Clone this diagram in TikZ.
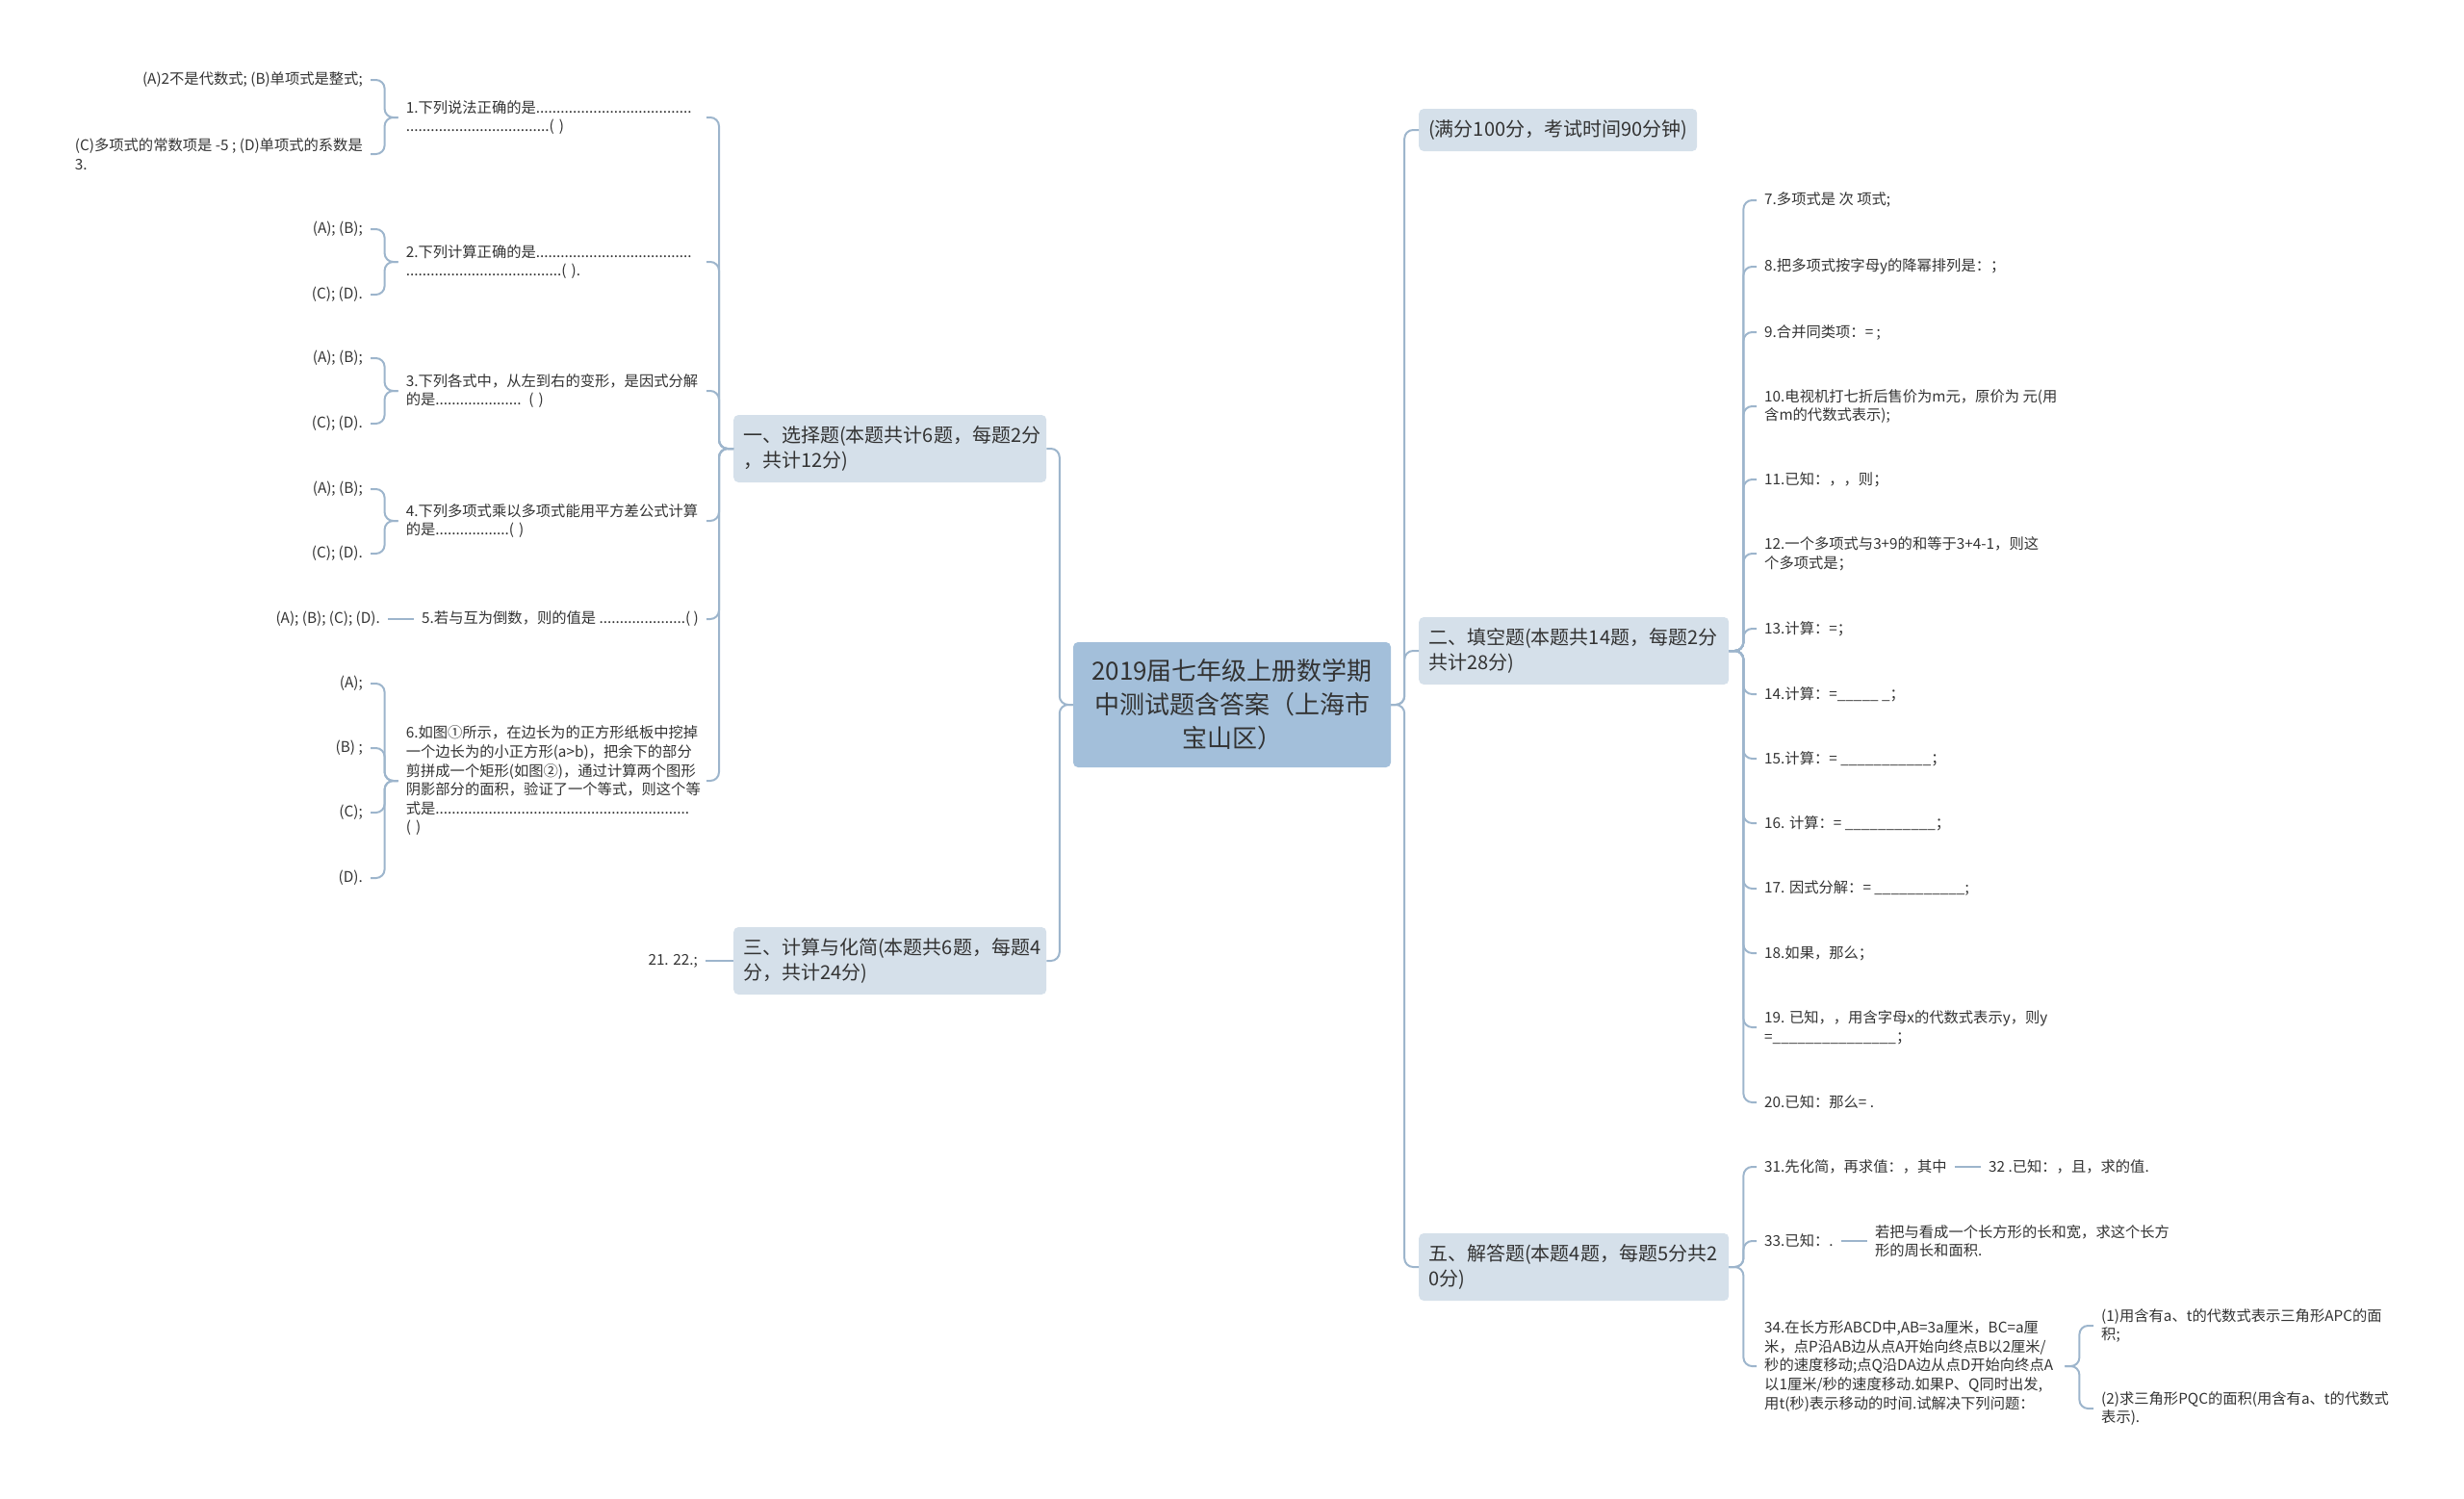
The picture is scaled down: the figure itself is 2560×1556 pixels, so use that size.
\documentclass[tikz,border=0pt]{standalone}
\usepackage{fontspec}
\setmainfont{Noto Sans CJK SC}
\usepackage{tikz}
\usetikzlibrary{positioning}
\definecolor{rootfill}{HTML}{A3BFDA}
\definecolor{topicfill}{HTML}{D5E0EA}
\definecolor{linkblue}{HTML}{9DB5CC}
\definecolor{inkgray}{HTML}{333333}
\newcommand{\leaffont}{\fontsize{15.3}{19.6}\selectfont}
\newcommand{\topicfont}{\fontsize{20}{26}\selectfont}
\newcommand{\rootfont}{\fontsize{26}{35}\selectfont}
\tikzset{%
  link/.style={draw=linkblue, line width=2pt, rounded corners=9pt},
  leaf/.style={align=left, inner xsep=8pt, inner ysep=2pt, text=inkgray, font=\leaffont},
  wide/.style={leaf, text width=304pt}%
}

\begin{document}
\begin{tikzpicture}[
    x=1pt, y=-1pt,
    rootbox/.style={
        fill=rootfill,
        rounded corners=5pt,
        align=center,
        text width=310pt,
        minimum width=330pt,
        minimum height=130pt,
        inner sep=0pt,
        text=inkgray,
        font=\rootfont
    },
    topic/.style={
        fill=topicfill,
        rounded corners=5pt,
        align=left,
        inner xsep=10pt,
        inner ysep=0pt,
        text=inkgray,
        font=\topicfont
    },
    ltopic/.style={topic, text width=305pt, minimum height=70pt},
    rtopic/.style={topic, text width=302pt, minimum height=70pt}
]
\useasboundingbox (0,0) rectangle (2560,1556);

% Centre and first level
\node[rootbox] (root) at (1280,732)
{2019届七年级上册数学期\\中测试题含答案（上海市\\宝山区）};

\node[ltopic, anchor=west] (sec1) at (762,466)
{一、选择题(本题共计6题，每题2分\\，共计12分)};
\node[ltopic, anchor=west] (sec3) at (762,998)
{三、计算与化简(本题共6题，每题4\\分，共计24分)};
\node[topic, anchor=west, minimum height=44pt] (full) at (1474,135)
{(满分100分，考试时间90分钟)};
\node[rtopic, anchor=west] (sec2) at (1474,676)
{二、填空题(本题共14题，每题2分\\共计28分)};
\node[rtopic, anchor=west] (sec5) at (1474,1316)
{五、解答题(本题4题，每题5分共2\\0分)};

% Choice questions
\node[wide, anchor=east] (q1) at (734,122)
{1.下列说法正确的是......................................\\...................................( )};
\node[wide, anchor=east] (q2) at (734,272)
{2.下列计算正确的是......................................\\......................................( ).};
\node[wide, anchor=east] (q3) at (734,406)
{3.下列各式中，从左到右的变形，是因式分解\\的是..................... ( )};
\node[wide, anchor=east] (q4) at (734,541)
{4.下列多项式乘以多项式能用平方差公式计算\\的是..................( )};
\node[leaf, anchor=east] (q5) at (734,643)
{5.若与互为倒数，则的值是 .....................( )};
\node[wide, anchor=east] (q6) at (734,811)
{6.如图①所示，在边长为的正方形纸板中挖掉\\一个边长为的小正方形(a>b)，把余下的部分\\剪拼成一个矩形(如图②)，通过计算两个图形\\阴影部分的面积，验证了一个等式，则这个等\\式是..............................................................\\( )};

% Options
\node[leaf, anchor=east] (q1a) at (385,83) {(A)2不是代数式; (B)单项式是整式;};
\node[leaf, anchor=east] (q1c) at (385,160) {(C)多项式的常数项是 -5 ; (D)单项式的系数是\\3.};
\node[leaf, anchor=east] (q2a) at (385,238) {(A); (B);};
\node[leaf, anchor=east] (q2c) at (385,306) {(C); (D).};
\node[leaf, anchor=east] (q3a) at (385,372) {(A); (B);};
\node[leaf, anchor=east] (q3c) at (385,440) {(C); (D).};
\node[leaf, anchor=east] (q4a) at (385,508) {(A); (B);};
\node[leaf, anchor=east] (q4c) at (385,575) {(C); (D).};
\node[leaf, left=27pt of q5] (q5a) {(A); (B); (C); (D).};
\node[leaf, anchor=east] (q6a) at (385,710) {(A);};
\node[leaf, anchor=east] (q6b) at (385,777) {(B) ;};
\node[leaf, anchor=east] (q6c) at (385,844) {(C);};
\node[leaf, anchor=east] (q6d) at (385,912) {(D).};

\node[leaf, left=29pt of sec3] (c21) {21. 22.;};

% Fill-in questions
\node[leaf, anchor=west] (f7) at (1825,208) {7.多项式是 次 项式;};
\node[leaf, anchor=west] (f8) at (1825,277) {8.把多项式按字母y的降幂排列是：；};
\node[leaf, anchor=west] (f9) at (1825,345) {9.合并同类项：= ;};
\node[leaf, anchor=west] (f10) at (1825,422) {10.电视机打七折后售价为m元，原价为 元(用\\含m的代数式表示);};
\node[leaf, anchor=west] (f11) at (1825,498) {11.已知：，，则；};
\node[leaf, anchor=west] (f12) at (1825,575) {12.一个多项式与3+9的和等于3+4-1，则这\\个多项式是；};
\node[leaf, anchor=west] (f13) at (1825,653) {13.计算：=；};
\node[leaf, anchor=west] (f14) at (1825,721) {14.计算：=\_\_\_\_\_ \_；};
\node[leaf, anchor=west] (f15) at (1825,788) {15.计算：= \_\_\_\_\_\_\_\_\_\_\_；};
\node[leaf, anchor=west] (f16) at (1825,855) {16. 计算：= \_\_\_\_\_\_\_\_\_\_\_；};
\node[leaf, anchor=west] (f17) at (1825,923) {17. 因式分解：= \_\_\_\_\_\_\_\_\_\_\_;};
\node[leaf, anchor=west] (f18) at (1825,990) {18.如果，那么；};
\node[leaf, anchor=west] (f19) at (1825,1067) {19. 已知，，用含字母x的代数式表示y，则y\\=\_\_\_\_\_\_\_\_\_\_\_\_\_\_\_；};
\node[leaf, anchor=west] (f20) at (1825,1145) {20.已知：那么= .};

% Answer questions
\node[leaf, anchor=west] (s31) at (1825,1212) {31.先化简，再求值：，其中};
\node[leaf, right=27pt of s31] (s32) {32 .已知：，且，求的值.};
\node[leaf, anchor=west] (s33) at (1825,1289) {33.已知：.};
\node[leaf, right=27pt of s33] (s33b) {若把与看成一个长方形的长和宽，求这个长方\\形的周长和面积.};
\node[wide, anchor=west] (s34) at (1825,1419)
{34.在长方形ABCD中,AB=3a厘米，BC=a厘\\米，点P沿AB边从点A开始向终点B以2厘米/\\秒的速度移动;点Q沿DA边从点D开始向终点A\\以1厘米/秒的速度移动.如果P、Q同时出发,\\用t(秒)表示移动的时间.试解决下列问题：};
\node[leaf, anchor=west] (s34a) at (2175,1377) {(1)用含有a、t的代数式表示三角形APC的面\\积;};
\node[leaf, anchor=west] (s34b) at (2175,1463) {(2)求三角形PQC的面积(用含有a、t的代数式\\表示).};

% Connectors
\foreach \t in {sec1,sec3}
  \draw[link] (root.west) -- ++(-14,0) |- (\t.east);
\foreach \t in {full,sec2,sec5}
  \draw[link] (root.east) -- ++(14,0) |- (\t.west);
\foreach \q in {q1,q2,q3,q4,q5,q6}
  \draw[link] (sec1.west) -- ++(-15,0) |- (\q.east);
\foreach \q/\o in {q1/q1a,q1/q1c,q2/q2a,q2/q2c,q3/q3a,q3/q3c,q4/q4a,q4/q4c,q6/q6a,q6/q6b,q6/q6c,q6/q6d}
  \draw[link] (\q.west) -- ++(-14,0) |- (\o.east);
\draw[link] (q5.west) -- (q5a.east);
\draw[link] (sec3.west) -- (c21.east);
\foreach \f in {f7,f8,f9,f10,f11,f12,f13,f14,f15,f16,f17,f18,f19,f20}
  \draw[link] (sec2.east) -- ++(15,0) |- (\f.west);
\foreach \s in {s31,s33,s34}
  \draw[link] (sec5.east) -- ++(15,0) |- (\s.west);
\draw[link] (s31.east) -- (s32.west);
\draw[link] (s33.east) -- (s33b.west);
\foreach \s in {s34a,s34b}
  \draw[link] (s34.east) -- ++(15,0) |- (\s.west);

\end{tikzpicture}
\end{document}
